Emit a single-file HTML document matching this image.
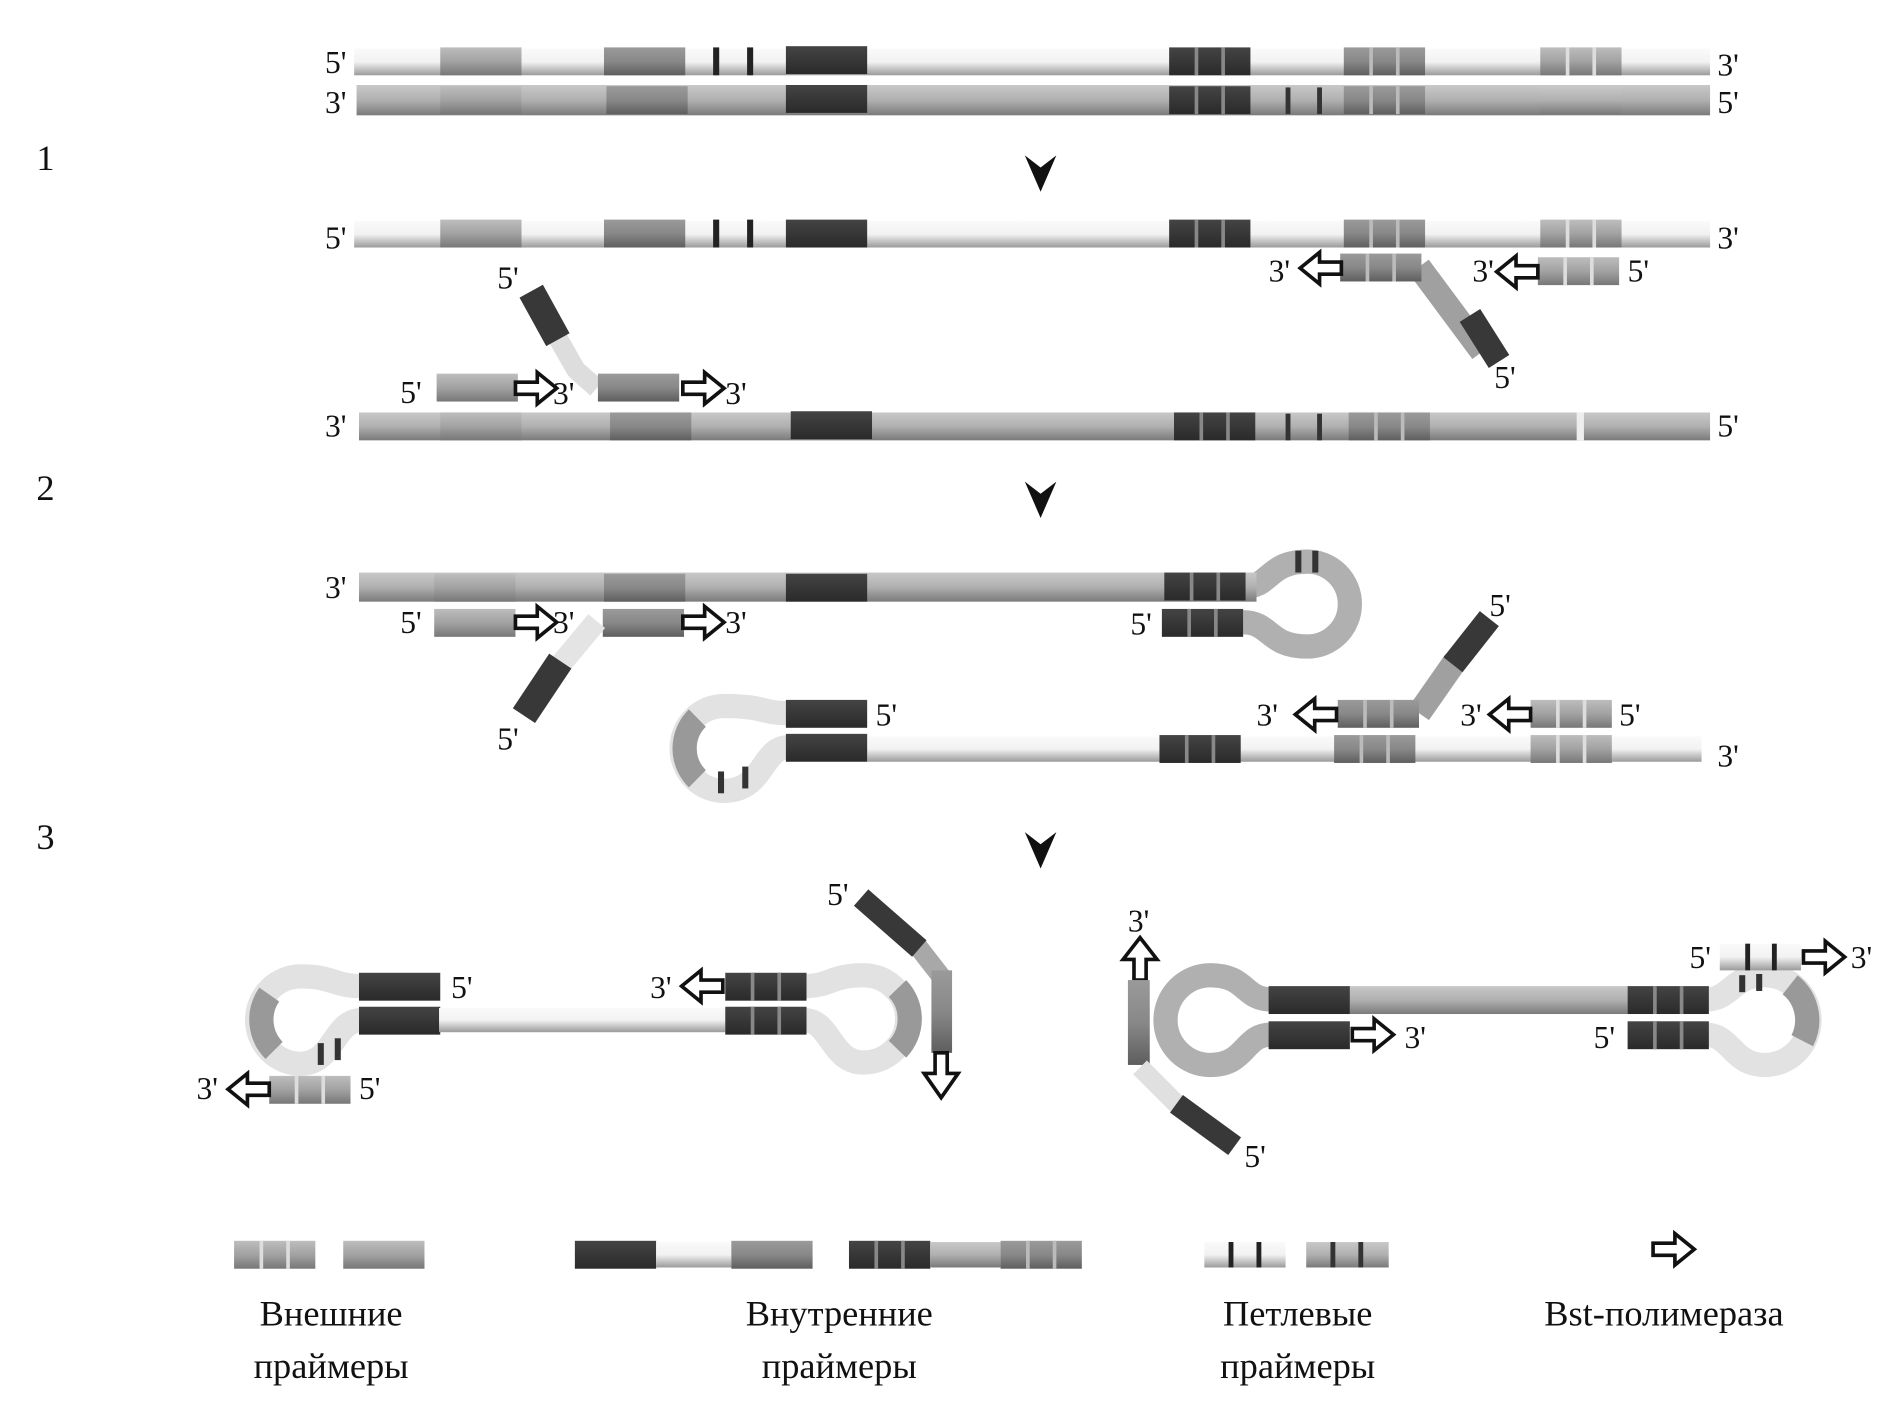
<!DOCTYPE html>
<html><head><meta charset="utf-8"><style>html,body{margin:0;padding:0;background:#fff}svg{display:block}text{font-family:"Liberation Serif",serif;fill:#111}</style></head><body>
<svg width="1892" height="1401" viewBox="0 0 1560 1155" xmlns="http://www.w3.org/2000/svg">
<defs>
<linearGradient id="W" x1="0" y1="0" x2="0" y2="1"><stop offset="0" stop-color="#fafafa"/><stop offset=".5" stop-color="#f2f2f2"/><stop offset="1" stop-color="#9a9a9a"/></linearGradient>
<linearGradient id="G" x1="0" y1="0" x2="0" y2="1"><stop offset="0" stop-color="#c8c8c8"/><stop offset=".5" stop-color="#b0b0b0"/><stop offset="1" stop-color="#7a7a7a"/></linearGradient>
<linearGradient id="L" x1="0" y1="0" x2="0" y2="1"><stop offset="0" stop-color="#bdbdbd"/><stop offset=".5" stop-color="#a2a2a2"/><stop offset="1" stop-color="#777"/></linearGradient>
<linearGradient id="M" x1="0" y1="0" x2="0" y2="1"><stop offset="0" stop-color="#9a9a9a"/><stop offset=".5" stop-color="#888"/><stop offset="1" stop-color="#5e5e5e"/></linearGradient>
<linearGradient id="D" x1="0" y1="0" x2="0" y2="1"><stop offset="0" stop-color="#444"/><stop offset="1" stop-color="#2a2a2a"/></linearGradient>
<g id="ar"><polygon points="0,-5 18,-5 18,-13 34,0 18,13 18,5 0,5" fill="#fff" stroke="#111" stroke-width="3"/></g>
<g id="ds"><rect x="0" y="0" width="67" height="23" fill="url(#D)"/><rect x="21" y="0" width="3" height="23" fill="#888"/><rect x="43" y="0" width="3" height="23" fill="#888"/></g>
<g id="ms"><rect x="0" y="0" width="67" height="23" fill="url(#M)"/><rect x="21" y="0" width="3" height="23" fill="#bbb"/><rect x="43" y="0" width="3" height="23" fill="#bbb"/></g>
<g id="ls"><rect x="0" y="0" width="67" height="23" fill="url(#L)"/><rect x="21" y="0" width="3" height="23" fill="#ddd"/><rect x="43" y="0" width="3" height="23" fill="#ddd"/></g>
<g id="dk"><rect x="0" y="0" width="67" height="23" fill="url(#D)"/></g>
<g id="mk"><rect x="0" y="0" width="67" height="23" fill="url(#M)"/></g>
<g id="lk"><rect x="0" y="0" width="67" height="23" fill="url(#L)"/></g>
</defs>
<g font-size="26">
<!-- Row 1 top -->
<rect x="292" y="40" width="1118" height="22" fill="url(#W)"/>
<use href="#lk" x="363" y="39"/><use href="#mk" x="498" y="39"/>
<rect x="588" y="39" width="5" height="23" fill="#222"/><rect x="616" y="39" width="5" height="23" fill="#222"/>
<use href="#dk" x="648" y="38"/><use href="#ds" x="964" y="39"/><use href="#ms" x="1108" y="39"/><use href="#ls" x="1270" y="39"/>
<text x="268" y="60">5'</text><text x="1416" y="62">3'</text>
<rect x="294" y="70" width="1116" height="25" fill="url(#G)"/>
<use href="#lk" x="363" y="71"/><use href="#mk" x="500" y="71"/><use href="#dk" x="648" y="70"/><use href="#ds" x="964" y="71"/>
<rect x="1060" y="72" width="4" height="22" fill="#333"/><rect x="1086" y="72" width="4" height="22" fill="#333"/>
<use href="#ms" x="1108" y="71"/><rect x="1270" y="71" width="67" height="23" fill="url(#G)"/>
<text x="268" y="93">3'</text><text x="1416" y="93">5'</text>
<g font-size="30"><text x="30" y="140">1</text><text x="30" y="412">2</text><text x="30" y="700">3</text></g>
<polygon points="845,128 858,138 871,128 858,158" fill="#111"/>
<polygon points="845,397 858,407 871,397 858,427" fill="#111"/>
<polygon points="845,686 858,696 871,686 858,716" fill="#111"/>
<!-- Row 2 top -->
<rect x="292" y="182" width="1118" height="22" fill="url(#W)"/>
<use href="#lk" x="363" y="181"/><use href="#mk" x="498" y="181"/>
<rect x="588" y="181" width="5" height="23" fill="#222"/><rect x="616" y="181" width="5" height="23" fill="#222"/>
<use href="#dk" x="648" y="181"/><use href="#ds" x="964" y="181"/><use href="#ms" x="1108" y="181"/><use href="#ls" x="1270" y="181"/>
<text x="268" y="205">5'</text><text x="1416" y="205">3'</text>
<line x1="1170" y1="220" x2="1222" y2="290" stroke="#a0a0a0" stroke-width="20"/>
<line x1="1212" y1="260" x2="1236" y2="298" stroke="#383838" stroke-width="20"/>
<use href="#ms" x="1105" y="209"/><use href="#ar" transform="translate(1106,221) scale(-1,1)"/>
<text x="1046" y="232">3'</text><text x="1232" y="320">5'</text>
<use href="#ls" x="1268" y="212"/><use href="#ar" transform="translate(1268,224) scale(-1,1)"/>
<text x="1214" y="232">3'</text><text x="1342" y="232">5'</text>
<rect x="296" y="340" width="1114" height="23" fill="url(#G)"/>
<use href="#lk" x="363" y="340"/><use href="#mk" x="503" y="340"/><use href="#dk" x="652" y="339"/><use href="#ds" x="968" y="340"/>
<rect x="1060" y="341" width="4" height="22" fill="#333"/><rect x="1086" y="341" width="4" height="22" fill="#333"/>
<use href="#ms" x="1112" y="340"/><rect x="1300" y="340" width="6" height="23" fill="#eee"/>
<text x="268" y="360">3'</text><text x="1416" y="360">5'</text>
<polyline points="455,270 475,305 492,320" fill="none" stroke="#ddd" stroke-width="16" stroke-linejoin="round"/>
<line x1="438" y1="240" x2="460" y2="280" stroke="#383838" stroke-width="22"/>
<text x="410" y="238">5'</text>
<use href="#lk" x="360" y="308"/><use href="#ar" x="425" y="320"/><text x="330" y="332">5'</text><text x="456" y="333">3'</text>
<use href="#mk" x="493" y="308"/><use href="#ar" x="563" y="320"/><text x="598" y="333">3'</text>
<!-- Row 3 -->
<path d="M1025,484 C1048,484 1045,463 1078,463 A35,35 0 0 1 1078,533 C1045,533 1048,513 1025,513" fill="none" stroke="#b0b0b0" stroke-width="20"/>
<rect x="1068" y="454" width="5" height="18" fill="#333"/><rect x="1082" y="454" width="5" height="18" fill="#333"/>
<rect x="296" y="472" width="740" height="24" fill="url(#G)"/>
<use href="#lk" x="358" y="473"/><use href="#mk" x="498" y="473"/><use href="#dk" x="648" y="473"/><use href="#ds" x="960" y="472"/>
<text x="268" y="493">3'</text>
<use href="#ds" x="958" y="502"/><text x="932" y="523">5'</text>
<use href="#lk" x="358" y="502"/><use href="#ar" x="425" y="513"/><text x="330" y="522">5'</text><text x="456" y="522">3'</text>
<use href="#mk" x="497" y="502"/><use href="#ar" x="563" y="513"/><text x="598" y="522">3'</text>
<line x1="492" y1="512" x2="462" y2="548" stroke="#e4e4e4" stroke-width="18"/>
<line x1="462" y1="545" x2="432" y2="590" stroke="#383838" stroke-width="22"/>
<text x="410" y="618">5'</text>
<path d="M650,588 C628,588 630,582 597,582 A35,35 0 0 0 597,652 C630,652 628,616 650,616" fill="none" stroke="#e2e2e2" stroke-width="20"/>
<path d="M575,592 A35,35 0 0 0 575,642" fill="none" stroke="#999" stroke-width="20"/>
<rect x="592" y="636" width="5" height="18" fill="#333"/><rect x="612" y="632" width="5" height="18" fill="#333"/>
<use href="#dk" x="648" y="577"/><text x="722" y="598">5'</text>
<rect x="715" y="607" width="688" height="21" fill="url(#W)"/>
<use href="#dk" x="648" y="605"/><use href="#ds" x="956" y="606"/><use href="#ms" x="1100" y="606"/><use href="#ls" x="1262" y="606"/>
<text x="1416" y="632">3'</text>
<line x1="1170" y1="588" x2="1200" y2="545" stroke="#a0a0a0" stroke-width="20"/>
<line x1="1198" y1="548" x2="1228" y2="510" stroke="#383838" stroke-width="20"/>
<use href="#ms" x="1103" y="577"/><use href="#ar" transform="translate(1102,589) scale(-1,1)"/>
<text x="1036" y="598">3'</text><text x="1228" y="508">5'</text>
<use href="#ls" x="1262" y="577"/><use href="#ar" transform="translate(1262,589) scale(-1,1)"/>
<text x="1204" y="598">3'</text><text x="1335" y="598">5'</text>
<!-- Row 4 left -->
<path d="M298,813 C275,813 275,805 248,805 A36,36 0 0 0 248,877 C275,877 275,841 298,841" fill="none" stroke="#e2e2e2" stroke-width="20"/>
<path d="M222,820 A36,36 0 0 0 226,866" fill="none" stroke="#999" stroke-width="20"/>
<rect x="262" y="860" width="5" height="18" fill="#333"/><rect x="276" y="856" width="5" height="18" fill="#333"/>
<use href="#dk" x="296" y="802"/><use href="#dk" x="296" y="830"/><text x="372" y="823">5'</text>
<rect x="362" y="831" width="236" height="20" fill="url(#W)"/>
<path d="M663,813 C685,813 685,804 712,804 A36,36 0 0 1 712,876 C685,876 685,841 663,841" fill="none" stroke="#e2e2e2" stroke-width="20"/>
<path d="M740,815 A36,36 0 0 1 740,865" fill="none" stroke="#999" stroke-width="20"/>
<use href="#ds" x="598" y="802"/><use href="#ds" x="598" y="830"/>
<use href="#ar" transform="translate(596,813) scale(-1,1)"/><text x="536" y="823">3'</text>
<use href="#ls" x="222" y="887"/><use href="#ar" transform="translate(222,898) scale(-1,1)"/>
<text x="162" y="906">3'</text><text x="296" y="906">5'</text>
<polyline points="755,778 776,805 776,868" fill="none" stroke="#a8a8a8" stroke-width="16"/>
<rect x="768" y="800" width="17" height="68" fill="url(#M)"/>
<line x1="710" y1="740" x2="758" y2="782" stroke="#383838" stroke-width="18"/>
<polygon points="771,868 781,868 781,885 790,885 776,905 762,885 771,885" fill="#fff" stroke="#111" stroke-width="3"/>
<text x="682" y="746">5'</text>
<!-- Row 4 right -->
<polygon points="935,808 945,808 945,791 954,791 940,773 926,791 935,791" fill="#fff" stroke="#111" stroke-width="3"/>
<text x="930" y="768">3'</text>
<rect x="930" y="808" width="18" height="70" fill="url(#M)"/>
<line x1="940" y1="880" x2="972" y2="912" stroke="#e0e0e0" stroke-width="16"/>
<line x1="970" y1="910" x2="1018" y2="945" stroke="#383838" stroke-width="18"/>
<text x="1026" y="962">5'</text>
<path d="M1048,824 C1025,824 1028,804 998,804 A37,37 0 0 0 998,878 C1028,878 1025,853 1048,853" fill="none" stroke="#b0b0b0" stroke-width="20"/>
<rect x="1113" y="813" width="229" height="23" fill="url(#G)"/>
<use href="#dk" x="1046" y="813"/><use href="#dk" x="1046" y="842"/>
<use href="#ar" x="1115" y="853"/><text x="1158" y="864">3'</text>
<path d="M1406,824 C1428,824 1428,804 1455,804 A37,37 0 0 1 1455,878 C1428,878 1428,853 1406,853" fill="none" stroke="#e2e2e2" stroke-width="20"/>
<path d="M1476,812 A37,37 0 0 1 1486,858" fill="none" stroke="#999" stroke-width="20"/>
<rect x="1434" y="804" width="5" height="14" fill="#333"/><rect x="1448" y="803" width="5" height="14" fill="#333"/>
<use href="#ds" x="1342" y="813"/><use href="#ds" x="1342" y="842"/><text x="1314" y="864">5'</text>
<rect x="1418" y="778" width="67" height="22" fill="url(#W)"/>
<rect x="1439" y="778" width="4" height="22" fill="#222"/><rect x="1461" y="778" width="4" height="22" fill="#222"/>
<use href="#ar" x="1487" y="789"/><text x="1393" y="798">5'</text><text x="1526" y="798">3'</text>
<!-- Legend -->
<use href="#ls" x="193" y="1023"/><use href="#lk" x="283" y="1023"/>
<use href="#dk" x="474" y="1023"/><rect x="541" y="1024" width="62" height="21" fill="url(#W)"/><use href="#mk" x="603" y="1023"/>
<use href="#ds" x="700" y="1023"/><rect x="767" y="1024" width="58" height="21" fill="url(#G)"/><use href="#ms" x="825" y="1023"/>
<rect x="993" y="1024" width="67" height="21" fill="url(#W)"/><rect x="1013" y="1024" width="4" height="21" fill="#222"/><rect x="1036" y="1024" width="4" height="21" fill="#222"/>
<rect x="1077" y="1024" width="68" height="21" fill="url(#G)"/><rect x="1097" y="1024" width="4" height="21" fill="#333"/><rect x="1120" y="1024" width="4" height="21" fill="#333"/>
<use href="#ar" x="1363" y="1030"/>
</g>
<g font-size="30" text-anchor="middle">
<text x="273" y="1093">Внешние</text><text x="273" y="1136">праймеры</text>
<text x="692" y="1093">Внутренние</text><text x="692" y="1136">праймеры</text>
<text x="1070" y="1093">Петлевые</text><text x="1070" y="1136">праймеры</text>
<text x="1372" y="1093">Bst-полимераза</text>
</g>
</svg>
</body></html>
